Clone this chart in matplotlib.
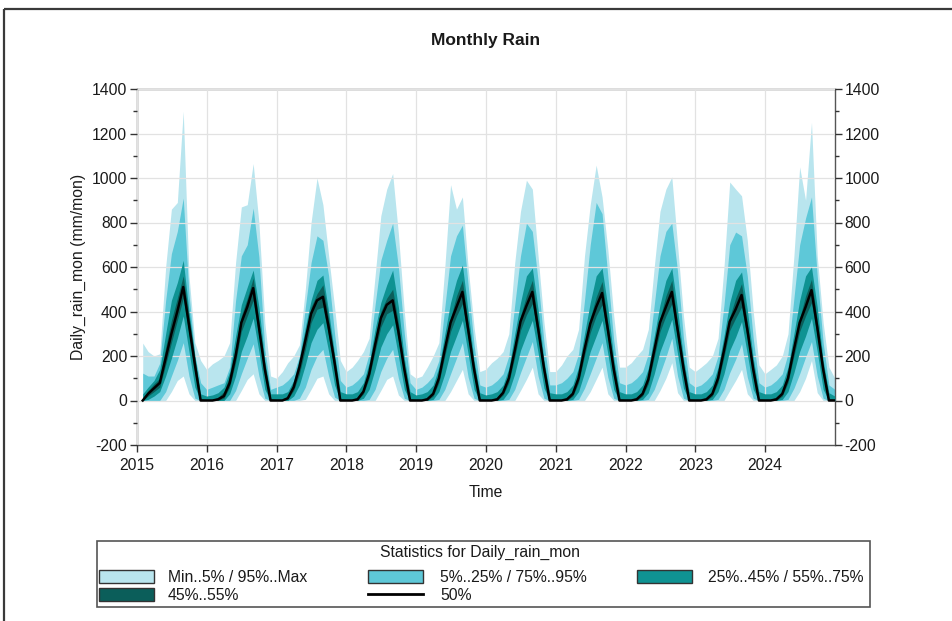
import numpy as np
import pandas as pd
import matplotlib
matplotlib.use('Agg')
import matplotlib.pyplot as plt
import matplotlib.dates as mdates
from matplotlib.patches import Rectangle
from matplotlib.lines import Line2D
import datetime as dt

plt.rcParams['font.family'] = ['Liberation Sans', 'DejaVu Sans']

# ---------------- data (monthly totals, Jan..Dec for each year) ----------------
years = list(range(2015, 2025))
year_labels = [str(y) for y in years]
y_ticks = [-200, 0, 200, 400, 600, 800, 1000, 1200, 1400]

rain_max = [
    [258, 220, 200, 210, 600, 860, 890, 1300, 560, 260, 180, 140],
    [165, 180, 200, 260, 620, 870, 880, 1065, 800, 350, 110, 100],
    [130, 170, 200, 250, 500, 800, 1000, 880, 650, 420, 180, 130],
    [150, 180, 220, 280, 560, 830, 950, 1020, 750, 400, 120, 100],
    [110, 150, 200, 260, 600, 970, 860, 915, 600, 330, 130, 140],
    [170, 190, 220, 300, 620, 850, 990, 950, 650, 350, 130, 130],
    [160, 200, 230, 320, 650, 880, 1058, 915, 680, 380, 150, 150],
    [170, 200, 230, 320, 600, 850, 950, 1005, 700, 380, 150, 130],
    [150, 170, 200, 280, 600, 982, 950, 920, 720, 400, 160, 120],
    [140, 160, 200, 300, 650, 1050, 900, 1250, 650, 350, 150, 100],
]
rain_p95 = [
    [123, 110, 110, 168, 450, 660, 760, 910, 480, 200, 80, 50],
    [60, 70, 80, 150, 450, 650, 700, 865, 645, 230, 50, 60],
    [70, 90, 120, 200, 420, 620, 740, 720, 560, 300, 90, 60],
    [70, 90, 120, 210, 430, 630, 720, 797, 600, 300, 80, 50],
    [60, 80, 110, 180, 420, 650, 740, 788, 520, 250, 70, 60],
    [70, 90, 120, 200, 430, 650, 797, 760, 540, 260, 70, 70],
    [80, 100, 130, 210, 450, 700, 890, 840, 560, 270, 80, 70],
    [80, 100, 130, 210, 430, 650, 760, 797, 580, 280, 80, 60],
    [70, 90, 120, 200, 430, 700, 757, 740, 560, 280, 80, 60],
    [70, 90, 120, 210, 460, 700, 820, 915, 560, 260, 70, 50],
]
rain_p75 = [
    [30, 60, 90, 140, 300, 450, 530, 630, 400, 200, 30, 20],
    [25, 35, 60, 130, 290, 430, 510, 586, 420, 180, 30, 30],
    [30, 40, 90, 190, 330, 450, 540, 564, 400, 210, 40, 30],
    [30, 40, 80, 170, 320, 440, 520, 586, 420, 190, 40, 25],
    [30, 40, 70, 150, 300, 440, 540, 609, 400, 180, 35, 25],
    [30, 40, 70, 145, 300, 440, 560, 595, 410, 180, 35, 30],
    [30, 40, 70, 150, 300, 440, 560, 595, 420, 190, 40, 30],
    [30, 40, 70, 145, 290, 430, 540, 595, 410, 190, 40, 30],
    [30, 40, 70, 150, 290, 440, 540, 578, 410, 190, 40, 30],
    [30, 40, 70, 150, 300, 450, 560, 600, 420, 180, 35, 20],
]
rain_p55 = [
    [10, 45, 75, 100, 240, 360, 460, 560, 380, 190, 10, 5],
    [5, 15, 40, 110, 240, 380, 460, 550, 360, 160, 10, 5],
    [5, 20, 70, 170, 300, 420, 480, 520, 370, 190, 10, 5],
    [5, 15, 50, 140, 280, 400, 460, 500, 350, 160, 10, 5],
    [5, 15, 40, 120, 250, 370, 470, 540, 350, 160, 10, 5],
    [5, 15, 45, 120, 240, 380, 470, 540, 355, 165, 10, 5],
    [5, 15, 40, 120, 250, 370, 465, 535, 350, 160, 10, 5],
    [5, 15, 40, 115, 240, 370, 470, 540, 350, 165, 10, 5],
    [5, 15, 40, 120, 240, 375, 460, 525, 350, 160, 10, 5],
    [5, 15, 40, 120, 250, 370, 470, 545, 360, 160, 10, 5],
]
rain_p50 = [
    [0, 30, 55, 79, 190, 300, 400, 510, 340, 160, 0, 0],
    [0, 5, 20, 79, 200, 350, 420, 505, 330, 140, 0, 0],
    [0, 10, 60, 150, 270, 390, 450, 466, 330, 170, 0, 0],
    [0, 5, 40, 120, 250, 370, 430, 450, 310, 140, 0, 0],
    [0, 5, 30, 100, 230, 350, 420, 488, 320, 140, 0, 0],
    [0, 5, 35, 100, 225, 355, 425, 488, 325, 145, 0, 0],
    [0, 5, 30, 100, 230, 345, 420, 483, 320, 140, 0, 0],
    [0, 5, 30, 95, 225, 350, 420, 488, 320, 145, 0, 0],
    [0, 5, 30, 100, 225, 355, 410, 474, 320, 140, 0, 0],
    [0, 5, 30, 100, 230, 350, 420, 496, 330, 140, 0, 0],
]
rain_p45 = [
    [0, 20, 40, 60, 160, 260, 360, 460, 300, 120, 0, 0],
    [0, 0, 10, 60, 170, 310, 380, 450, 290, 110, 0, 0],
    [0, 5, 45, 120, 230, 350, 410, 420, 290, 130, 0, 0],
    [0, 0, 30, 100, 220, 330, 390, 405, 270, 110, 0, 0],
    [0, 0, 20, 80, 200, 310, 380, 435, 280, 105, 0, 0],
    [0, 0, 25, 80, 195, 315, 385, 435, 285, 110, 0, 0],
    [0, 0, 20, 80, 200, 305, 380, 430, 280, 105, 0, 0],
    [0, 0, 20, 75, 195, 310, 380, 435, 280, 110, 0, 0],
    [0, 0, 20, 80, 195, 315, 370, 420, 280, 105, 0, 0],
    [0, 0, 20, 80, 200, 310, 380, 440, 290, 105, 0, 0],
]
rain_p25 = [
    [0, 5, 20, 40, 110, 190, 280, 380, 220, 60, 0, 0],
    [0, 0, 0, 30, 110, 220, 290, 370, 220, 50, 0, 0],
    [0, 0, 20, 70, 160, 260, 320, 350, 220, 70, 0, 0],
    [0, 0, 10, 50, 140, 240, 300, 340, 200, 50, 0, 0],
    [0, 0, 5, 40, 120, 220, 290, 360, 210, 50, 0, 0],
    [0, 0, 5, 40, 120, 225, 295, 360, 215, 55, 0, 0],
    [0, 0, 5, 40, 125, 220, 290, 360, 210, 50, 0, 0],
    [0, 0, 5, 35, 120, 220, 290, 365, 210, 55, 0, 0],
    [0, 0, 5, 40, 120, 225, 285, 355, 210, 50, 0, 0],
    [0, 0, 5, 40, 125, 220, 290, 370, 220, 50, 0, 0],
]
rain_p05 = [
    [0, 0, 0, 0, 40, 110, 180, 260, 110, 10, 0, 0],
    [0, 0, 0, 0, 45, 120, 190, 255, 110, 10, 0, 0],
    [0, 0, 0, 10, 60, 140, 200, 230, 110, 15, 0, 0],
    [0, 0, 0, 5, 50, 130, 190, 230, 100, 10, 0, 0],
    [0, 0, 0, 5, 50, 120, 190, 260, 105, 10, 0, 0],
    [0, 0, 0, 5, 50, 125, 195, 265, 110, 10, 0, 0],
    [0, 0, 0, 5, 55, 120, 190, 260, 105, 10, 0, 0],
    [0, 0, 0, 5, 50, 120, 195, 280, 110, 10, 0, 0],
    [0, 0, 0, 5, 50, 125, 185, 255, 105, 10, 0, 0],
    [0, 0, 0, 5, 55, 120, 195, 265, 110, 10, 0, 0],
]
rain_min = [
    [0, 0, 0, 0, 0, 40, 90, 110, 30, 0, 0, 0],
    [0, 0, 0, 0, 0, 45, 95, 120, 30, 0, 0, 0],
    [0, 0, 0, 0, 5, 50, 100, 110, 30, 0, 0, 0],
    [0, 0, 0, 0, 0, 45, 95, 110, 25, 0, 0, 0],
    [0, 0, 0, 0, 0, 40, 90, 140, 30, 0, 0, 0],
    [0, 0, 0, 0, 0, 45, 95, 150, 30, 0, 0, 0],
    [0, 0, 0, 0, 0, 40, 95, 150, 30, 0, 0, 0],
    [0, 0, 0, 0, 0, 45, 100, 170, 35, 0, 0, 0],
    [0, 0, 0, 0, 0, 45, 90, 140, 30, 0, 0, 0],
    [0, 0, 0, 0, 0, 40, 100, 180, 35, 0, 0, 0],
]

legend_labels = ["Min..5% / 95%..Max", "5%..25% / 75%..95%",
                 "25%..45% / 55%..75%", "45%..55%", "50%"]

# ---------------- styling ----------------
C_LIGHT = '#b9e5ee'
C_MED = '#5ec8d8'
C_TEAL = '#0f9393'
C_DARK = '#0b5e5a'
TXT = '#1a1a1a'
FS = 11.3

W, H = 953, 621
fig = plt.figure(figsize=(W / 100, H / 100), dpi=100)
fig.patch.set_facecolor('white')

ax = fig.add_axes([137 / W, 1 - 445 / H, (835 - 137) / W, (445 - 89) / H])

t = pd.date_range('2015-01-31', periods=len(years) * 12, freq='ME')
def flat(a):
    return np.concatenate([np.asarray(r, dtype=float) for r in a])

mn, p05, p25, p45 = flat(rain_min), flat(rain_p05), flat(rain_p25), flat(rain_p45)
p50 = flat(rain_p50)
p55, p75, p95, mx = flat(rain_p55), flat(rain_p75), flat(rain_p95), flat(rain_max)

ax.fill_between(t, mn, mx, color=C_LIGHT, lw=0, zorder=1)
ax.fill_between(t, p05, p95, color=C_MED, lw=0, zorder=2)
ax.fill_between(t, p25, p75, color=C_TEAL, lw=0, zorder=3)
ax.fill_between(t, p45, p55, color=C_DARK, lw=0, zorder=4)
ax.grid(True, which='major', color='#e2e2e2', lw=0.9, zorder=5)
ax.set_axisbelow(False)
for gl in ax.get_xgridlines() + ax.get_ygridlines():
    gl.set_zorder(5)
ax.plot(t, p50, color='black', lw=1.8, zorder=6)

ax.set_xlim(dt.datetime(2015, 1, 1), dt.datetime(2025, 1, 1))
ax.set_xticks([dt.datetime(y, 1, 1) for y in years])
ax.set_xticklabels(year_labels)
ax.set_ylim(-200, 1400)
ax.set_yticks(y_ticks)
ax.set_yticklabels([str(v) for v in y_ticks])
ax.yaxis.set_minor_locator(matplotlib.ticker.MultipleLocator(100))

ax.tick_params(axis='both', which='major', labelsize=FS, colors='#333333',
               labelcolor=TXT, length=5, width=1, direction='out', pad=2)
ax.tick_params(axis='x', which='major', pad=4)
ax.tick_params(axis='y', which='minor', length=3, width=1, colors='#333333')
ax.tick_params(axis='y', which='both', left=True, right=True, labelright=True)
for s in ax.spines.values():
    s.set_color('#555555')
    s.set_linewidth(1.0)

ax.set_xlabel('Time', fontsize=FS, color=TXT, labelpad=9)
ax.set_ylabel('Daily_rain_mon (mm/mon)', fontsize=FS, color=TXT, labelpad=4)
fig.text(486 / W, 1 - 41 / H, 'Monthly Rain', ha='center', va='center',
         fontsize=12.5, fontweight='bold', color=TXT)

# ---------------- overlay: frame and legend (pixel coordinates) ----------------
lax = fig.add_axes([0, 0, 1, 1], zorder=10)
lax.set_xlim(0, W)
lax.set_ylim(H, 0)
lax.axis('off')
lax.patch.set_alpha(0)

lax.add_patch(Rectangle((4, 9), W + 20, H + 20, fill=False, ec='#3a3a3a', lw=1.6))

lax.add_patch(Rectangle((97, 541), 773, 66, fill=False, ec='#555555', lw=1.2))
lax.text(480, 552, 'Statistics for Daily_rain_mon', ha='center', va='center',
         fontsize=FS, color=TXT)

sw_w, sw_h = 55, 13
entries = [
    (99, 570, C_LIGHT, legend_labels[0], 168),
    (368, 570, C_MED, legend_labels[1], 440),
    (637, 570, C_TEAL, legend_labels[2], 708),
    (99, 588, C_DARK, legend_labels[3], 168),
]
for x0, y0, col, lab, tx in entries:
    lax.add_patch(Rectangle((x0, y0), sw_w, sw_h, fc=col, ec='#333333', lw=1.0))
    lax.text(tx, y0 + sw_h / 2 + 0.5, lab, ha='left', va='center', fontsize=FS, color=TXT)
lax.add_line(Line2D([368, 423], [594, 594], color='black', lw=2.0))
lax.text(440, 595, legend_labels[4], ha='left', va='center', fontsize=FS, color=TXT)

fig.savefig('out.png', dpi=100, facecolor='white')
